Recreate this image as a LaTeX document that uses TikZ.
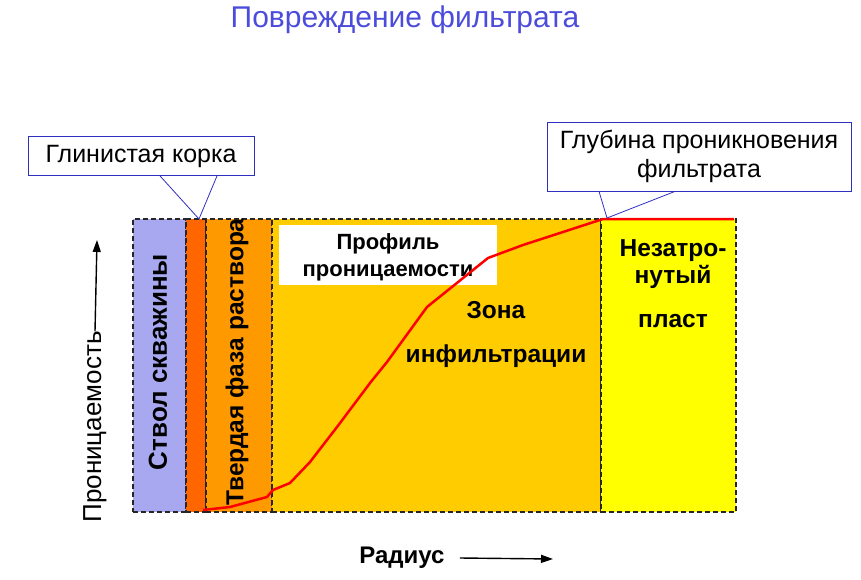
\documentclass[tikz,border=0pt]{standalone}
\usepackage{fontspec}
\setmainfont{Liberation Sans}
\usetikzlibrary{arrows.meta,positioning}
\definecolor{wellblue}{HTML}{A8A8F0}
\definecolor{cakered}{HTML}{FF6600}
\definecolor{solidorange}{HTML}{FF9900}
\definecolor{zonegold}{HTML}{FFCC00}
\definecolor{virginyellow}{HTML}{FFFF00}
\definecolor{titleblue}{HTML}{4B4BDC}
\definecolor{calloutblue}{HTML}{3030C0}
\definecolor{curvered}{HTML}{FF0000}
\tikzset{
  bandnode/.style={draw=black!85,dash pattern=on 5pt off 3pt,line width=1.5pt,minimum height=293pt,inner sep=0pt,anchor=north west},
  calloutnode/.style={draw=calloutblue,line width=0.8pt,fill=white,inner sep=0pt,font=\fontsize{25}{29}\selectfont,align=center},
  calloutline/.style={draw=calloutblue,line width=0.8pt},
  zonetext/.style={font=\fontsize{24.5}{27}\selectfont\bfseries,align=center,inner sep=0pt},
  axisarrow/.style={-{Triangle[length=12pt,width=8pt]},line width=1.4pt},
}
\begin{document}
\begin{tikzpicture}[x=1pt,y=-1pt]
        \useasboundingbox (0,0) rectangle (861,580);
        \node[font=\fontsize{30}{34}\selectfont,text=titleblue] (title) at (405,20) {Повреждение фильтрата};
        % bands of the formation
        \node[bandnode,fill=wellblue,minimum width=53pt] (wellbore) at (132,218) {};
        \node[bandnode,fill=cakered,minimum width=20pt] (cake) at (185,218) {};
        \node[bandnode,fill=solidorange,minimum width=66pt] (solids) at (205,218) {};
        \node[bandnode,fill=zonegold,minimum width=329pt] (zone) at (271,218) {};
        \node[bandnode,fill=virginyellow,minimum width=135pt] (virgin) at (600,218) {};
        \node[fill=white,minimum width=218pt,minimum height=60pt,inner sep=0pt] (profilebox) at (388,255) {};
        \node[zonetext,font=\fontsize{22}{27}\selectfont\bfseries] (profiletext) at (388,257) {Профиль\\проницаемости};
        % permeability curve
        \draw[curvered,line width=2.5pt,line join=round] (203,510) -- (230,507) -- (267,497) -- (273,490) -- (290,483)
          -- (310,462) -- (337,427) -- (370,383) -- (387,362) -- (427,307) -- (488,258) -- (523,245) -- (603,219) -- (734,219);
        % labels
        \node[zonetext] (zonelabel) at (496,334) {Зона\\[17pt]инфильтрации};
        \node[zonetext] (virginlabel) at (673,284) {Незатро-\\нутый\\[17pt]пласт};
        \node[zonetext,font=\fontsize{26}{30}\selectfont\bfseries,rotate=90] (wellborelabel) at (158,362) {Ствол скважины};
        \node[zonetext,rotate=90] (solidslabel) at (237,362) {Твердая фаза раствора};
        % callouts
        \node[calloutnode,minimum width=226pt,minimum height=39pt] (cakelabel) at (141,156) {Глинистая корка};
        \coordinate (cakept) at (199,219);
        \draw[calloutline] ([xshift=19pt]cakelabel.south) -- (cakept) -- ([xshift=76pt]cakelabel.south);
        \node[calloutnode,minimum width=304pt,minimum height=69pt,font=\fontsize{25}{29}\selectfont] (depthlabel) at (699,156.5) {Глубина проникновения\\фильтрата};
        \coordinate (depthpt) at (607,218);
        \draw[calloutline] ([xshift=-100pt]depthlabel.south) -- (depthpt) -- ([xshift=-24pt]depthlabel.south);
        % axes
        \node[font=\fontsize{26}{30}\selectfont,rotate=90,inner sep=0pt] (ylabel) at (95,427) {Проницаемость};
        \coordinate (ytip) at (97,240);
        \draw[axisarrow] (ylabel.east) -- (ytip);
        \node[font=\fontsize{24}{28}\selectfont\bfseries,inner sep=0pt] (xlabel) at (402,558) {Радиус};
        \coordinate (xtip) at (553,559);
        \draw[axisarrow] ([xshift=15pt]xlabel.east) -- (xtip);
      \end{tikzpicture}
\end{document}
